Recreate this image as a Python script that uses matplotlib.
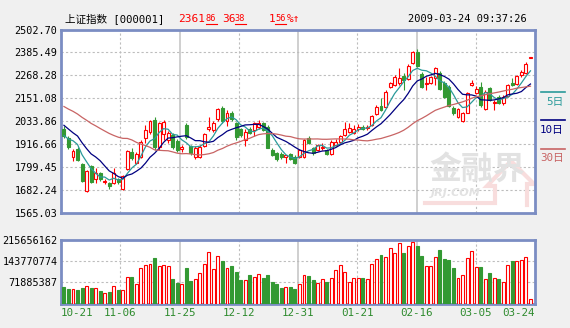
import numpy as np
import pandas as pd
import matplotlib
matplotlib.use("Agg")
import matplotlib.pyplot as plt
from matplotlib.lines import Line2D

plt.rcParams["font.family"] = ["DejaVu Sans Mono", "Noto Sans CJK SC"]

# closes of the sessions before the window, used only to warm up the moving averages
prev_close = [2297, 2226, 2250, 2242, 2225, 2202, 2143, 2145, 2115, 2078,
              2079, 1986, 1929, 1896, 2075, 2237, 2201, 2208, 2298, 2293,
              2093, 2074, 2000, 2073, 2080, 1994, 1923, 1931, 1993]

opens = [1993.5, 1947.4, 1851.7, 1888.5, 1814.3, 1677.7, 1801.5, 1736.0, 1766.7, 1719.6,
         1717.1, 1718.6, 1735.0, 1686.4, 1787.2, 1877.3, 1817.9, 1851.7, 1944.8, 1978.1,
         2039.5, 1901.3, 1967.9, 1937.2, 1962.8, 1932.1, 1891.1, 2011.4, 1903.9, 1851.7,
         1850.2, 1906.4, 1990.9, 1985.8, 2043.1, 2100.9, 2034.4, 2076.9, 2022.6, 1991.9,
         1937.2, 1991.9, 1988.3, 2002.1, 2021.6, 2003.7, 1886.0, 1870.6, 1865.5, 1850.2,
         1865.5, 1851.7, 1851.7, 1850.2, 1945.9, 1896.2, 1886.0, 1896.2, 1886.0, 1865.5,
         1911.6, 1928.5, 1962.8, 1979.6, 1974.5, 1991.9, 2005.2, 1999.6, 2013.9, 2070.2,
         2111.2, 2104.5, 2210.0, 2218.6, 2227.4, 2264.7, 2247.8, 2332.8, 2389.1, 2273.4,
         2223.8, 2227.4, 2252.9, 2278.5, 2227.4, 2210.0, 2099.4, 2053.3, 2035.9, 2076.9,
         2218.6, 2179.2, 2206.9, 2094.3, 2201.8, 2128.1, 2158.8, 2128.1, 2162.3, 2230.4,
         2223.8, 2269.8, 2278.5, 2355.3]
highs = [2008.8, 1957.7, 1888.5, 1901.3, 1819.4, 1783.6, 1809.2, 1791.3, 1773.4, 1735.0,
         1722.2, 1793.9, 1742.7, 1758.0, 1886.0, 1896.2, 1875.7, 1937.2, 2011.4, 2039.5,
         2053.3, 2030.8, 2039.5, 1983.2, 1973.0, 1942.3, 1911.6, 2024.2, 1911.6, 1906.4,
         1911.6, 1973.0, 2054.9, 2034.4, 2100.9, 2111.2, 2090.7, 2085.6, 2029.3, 1998.6,
         1990.9, 2001.1, 2029.3, 2039.5, 2029.3, 2013.9, 1893.7, 1875.7, 1875.7, 1860.4,
         1870.6, 1860.4, 1891.1, 1942.3, 1957.7, 1901.3, 1916.7, 1923.4, 1891.1, 1934.6,
         1942.3, 1962.8, 2026.7, 2024.2, 2013.9, 2016.5, 2013.9, 2013.9, 2065.1, 2113.7,
         2149.6, 2190.5, 2234.0, 2267.3, 2304.1, 2278.5, 2323.6, 2392.7, 2402.9, 2285.2,
         2258.0, 2264.7, 2312.3, 2290.3, 2239.1, 2218.6, 2111.2, 2100.9, 2080.5, 2182.8,
         2244.2, 2213.5, 2235.5, 2190.5, 2208.4, 2141.9, 2167.5, 2167.5, 2223.8, 2251.9,
         2269.8, 2295.4, 2336.4, 2363.0]
lows = [1947.4, 1891.1, 1831.2, 1829.7, 1722.2, 1669.5, 1717.1, 1714.5, 1727.3, 1712.0,
        1686.4, 1712.0, 1712.0, 1681.3, 1783.6, 1834.8, 1814.3, 1845.0, 1921.8, 1967.9,
        1886.0, 1886.0, 1937.2, 1921.8, 1891.1, 1875.7, 1875.7, 1942.3, 1860.4, 1839.9,
        1845.0, 1901.3, 1983.2, 1978.1, 2034.4, 2024.2, 2008.8, 2034.4, 1937.2, 1952.5,
        1906.4, 1967.9, 1957.7, 1993.5, 1980.7, 1893.7, 1852.7, 1829.7, 1839.9, 1821.0,
        1834.8, 1814.3, 1845.0, 1845.0, 1916.7, 1860.4, 1880.9, 1886.0, 1860.4, 1860.4,
        1906.4, 1921.8, 1957.7, 1973.0, 1967.9, 1983.2, 1985.8, 1988.3, 2008.8, 2065.1,
        2083.0, 2098.4, 2203.3, 2213.5, 2218.6, 2193.1, 2241.7, 2326.1, 2312.3, 2203.3,
        2193.1, 2223.8, 2218.6, 2193.1, 2152.1, 2106.1, 2065.1, 2049.8, 2029.3, 2072.8,
        2213.5, 2172.6, 2107.6, 2090.7, 2136.8, 2090.7, 2121.4, 2116.3, 2157.2, 2213.5,
        2218.6, 2259.6, 2272.4, 2354.3]
closes = [1957.7, 1899.8, 1882.4, 1834.8, 1728.9, 1778.5, 1723.7, 1766.7, 1736.0, 1728.9,
          1701.7, 1769.8, 1719.6, 1752.9, 1880.9, 1843.5, 1865.5, 1928.5, 1988.3, 2031.8,
          1901.3, 2022.6, 2029.3, 1973.0, 1898.8, 1886.0, 1901.3, 1952.5, 1872.2, 1894.7,
          1901.3, 1965.3, 2002.1, 2024.2, 2093.3, 2034.4, 2076.9, 2044.6, 1954.0, 1962.8,
          1979.6, 1974.5, 2022.6, 2022.6, 1988.3, 1897.7, 1860.4, 1839.9, 1848.6, 1857.8,
          1838.4, 1821.0, 1886.0, 1937.2, 1923.4, 1872.2, 1911.6, 1902.9, 1865.5, 1928.5,
          1928.5, 1957.7, 1991.9, 1997.0, 1991.9, 2005.2, 1991.9, 2005.2, 2060.0, 2107.6,
          2090.7, 2184.3, 2227.4, 2261.1, 2256.0, 2244.2, 2315.9, 2386.0, 2317.4, 2206.9,
          2230.4, 2258.0, 2304.1, 2196.6, 2158.8, 2111.2, 2073.8, 2095.8, 2073.8, 2176.2,
          2227.4, 2196.6, 2116.3, 2184.3, 2141.9, 2133.2, 2128.1, 2158.8, 2218.6, 2218.6,
          2264.7, 2283.6, 2325.48, 2361.86]
# volume in millions
volume_m = [55.7, 49, 49, 46, 53, 58, 52, 52, 42, 36,
            39, 58, 46, 46, 89, 89, 66, 119, 130, 132,
            153, 126, 129, 126, 82, 69, 66, 119, 76, 82,
            102, 132, 173, 116, 160, 143, 119, 126, 106, 79,
            79, 96, 89, 99, 86, 96, 72, 66, 52, 56,
            56, 49, 66, 96, 93, 79, 69, 82, 72, 86,
            113, 129, 106, 72, 86, 86, 86, 82, 132, 149,
            163, 156, 186, 169, 203, 169, 193, 206, 193, 159,
            126, 126, 156, 180, 149, 146, 119, 86, 96, 153,
            176, 123, 123, 82, 102, 86, 82, 72, 129, 143,
            143, 146, 156, 16]

date_labels = ["10-21", "11-06", "11-25", "12-12", "12-31",
               "01-21", "02-16", "03-05", "03-24"]
price_ticks = [1565.03, 1682.24, 1799.45, 1916.66, 2033.86,
               2151.08, 2268.28, 2385.49, 2502.70]
vol_ticks = [71885387, 143770774, 215656162]

RED = "#ff0000"
GREEN = "#339933"
MA_COLORS = {5: "#2a9a9a", 10: "#000080", 30: "#c86464"}
FRAME = "#7b8dc3"
GRID = "#bdbdbd"

W, H = 570, 328


def fx(px):
    return px / W


def fy(py):
    return 1 - py / H


opens = np.array(opens)
closes_a = np.array(closes)
highs = np.array(highs)
lows = np.array(lows)
volume = np.array(volume_m) * 1e6
x = np.arange(len(closes))
up = closes_a >= opens

all_close = pd.Series(prev_close + closes)
ma = {n: all_close.rolling(n).mean().to_numpy()[len(prev_close):] for n in MA_COLORS}

fig = plt.figure(figsize=(W / 100, H / 100), dpi=100, facecolor="#f0f0f0")
ax = fig.add_axes([fx(61), fy(212.5), fx(535) - fx(61), fy(29.5) - fy(212.5)])
axv = fig.add_axes([fx(61), fy(303.5), fx(535) - fx(61), fy(239.5) - fy(303.5)])

xlim = (-0.65, len(closes))
for a in (ax, axv):
    a.set_facecolor("white")
    a.set_xlim(*xlim)
    a.set_xticks([])
    for s in a.spines.values():
        s.set_color(FRAME)
        s.set_linewidth(2)
    a.tick_params(axis="y", length=0, pad=2.5, labelsize=7.3)
    # vertical grid, every other line solid
    for k in range(1, 8):
        xv = xlim[0] + k * (xlim[1] - xlim[0]) / 8
        if k % 2 == 0:
            a.axvline(xv, color="#cccccc", lw=1.3, zorder=0)
        else:
            a.axvline(xv, color=GRID, lw=0.8, ls=(0, (2, 2)), zorder=0)

# price panel
ax.set_ylim(price_ticks[0], price_ticks[-1])
ax.set_yticks(price_ticks)
ax.set_yticklabels([f"{v:.2f}" for v in price_ticks])
for v in price_ticks[1:-1]:
    ax.axhline(v, color=GRID, lw=0.8, ls=(0, (2, 2)), zorder=0)


def axp(px, py):
    # pixel position inside the price panel -> axes fraction
    return (px - 61) / 474, (212.5 - py) / 183


# watermark: logo outline, brand name and url
logo = [axp(*p) for p in [(425, 203), (495, 203), (495, 186), (487, 186),
                          (511, 161), (534, 184), (527, 184), (527, 205)]]
ax.add_artist(Line2D([p[0] for p in logo], [p[1] for p in logo], transform=ax.transAxes,
                     color="#f8dddd", lw=3, solid_joinstyle="miter", zorder=0))
ax.text(*axp(477, 170), "金融界", transform=ax.transAxes, fontsize=23, fontweight="bold",
        color="#e2e2e2", ha="center", va="center", family="Noto Sans CJK SC", zorder=1)
ax.text(*axp(456, 193), "JRJ.COM", transform=ax.transAxes, fontsize=8, fontstyle="italic",
        fontweight="bold", color="#e2e2e2", ha="center", va="center",
        family="DejaVu Sans", zorder=1)

colors = np.where(up, RED, GREEN)
ax.vlines(x, lows, highs, colors=colors, lw=0.8, zorder=2)
body_lo = np.minimum(opens, closes_a)
body_h = np.abs(closes_a - opens)
ax.bar(x, body_h, bottom=body_lo, width=0.66, color=np.where(up, "white", GREEN),
       edgecolor=colors, lw=0.8, zorder=3)

for n, c in MA_COLORS.items():
    ax.plot(x, ma[n], color=c, lw=0.9, zorder=4)

# volume panel
axv.set_ylim(0, vol_ticks[-1])
axv.set_yticks(vol_ticks)
axv.set_yticklabels([str(v) for v in vol_ticks])
for v in vol_ticks[:-1]:
    axv.axhline(v, color=GRID, lw=0.8, ls=(0, (2, 2)), zorder=0)
axv.bar(x, volume, width=0.66, color=np.where(up, "white", GREEN),
        edgecolor=colors, lw=0.8, zorder=3)

for k, lab in enumerate(date_labels):
    ha = "left" if k == 0 else ("right" if k == len(date_labels) - 1 else "center")
    axv.text(k / (len(date_labels) - 1), -0.153, lab, transform=axv.transAxes,
             ha=ha, va="center", fontsize=7.8, color="#2e8b2e")

# moving average legend
for (n, c), ly in zip(MA_COLORS.items(), (92, 120, 148.5)):
    fig.add_artist(Line2D([fx(541), fx(565)], [fy(ly), fy(ly)], color=c, lw=1.2))
    fig.text(fx(564), fy(ly + 9.5), f"{n}日", color=c, fontsize=7.8,
             ha="right", va="center")

# header
fig.text(fx(65), fy(18.5), "上证指数 [000001]", fontsize=7.6, va="center", color="black")
last, prev = closes[-1], closes[-2]
chg = last - prev
pct = chg / prev * 100
parts = [
    (178, f"{int(last)}", False), (206, f"{last:.2f}"[-2:], True),
    (222.5, f"{int(chg)}", False), (234.5, f"{chg:.2f}"[-2:], True),
    (269, f"{int(pct)}", False), (275, f"{pct:.2f}"[-2:], True), (287, "%↑", False),
]
for px, s, small in parts:
    fig.text(fx(px), fy(18.5), s, fontsize=6.2 if small else 8, color=RED,
             va="center", family=["DejaVu Sans Mono", "DejaVu Sans"])
    if small:
        fig.add_artist(Line2D([fx(px), fx(px + 5.5 * len(s))], [fy(23.5), fy(23.5)],
                              color=RED, lw=0.8))
fig.text(fx(527), fy(18.5), "2009-03-24 09:37:26", fontsize=7.5, ha="right",
         va="center", color="black")

fig.savefig("out.png", dpi=100, facecolor=fig.get_facecolor())
